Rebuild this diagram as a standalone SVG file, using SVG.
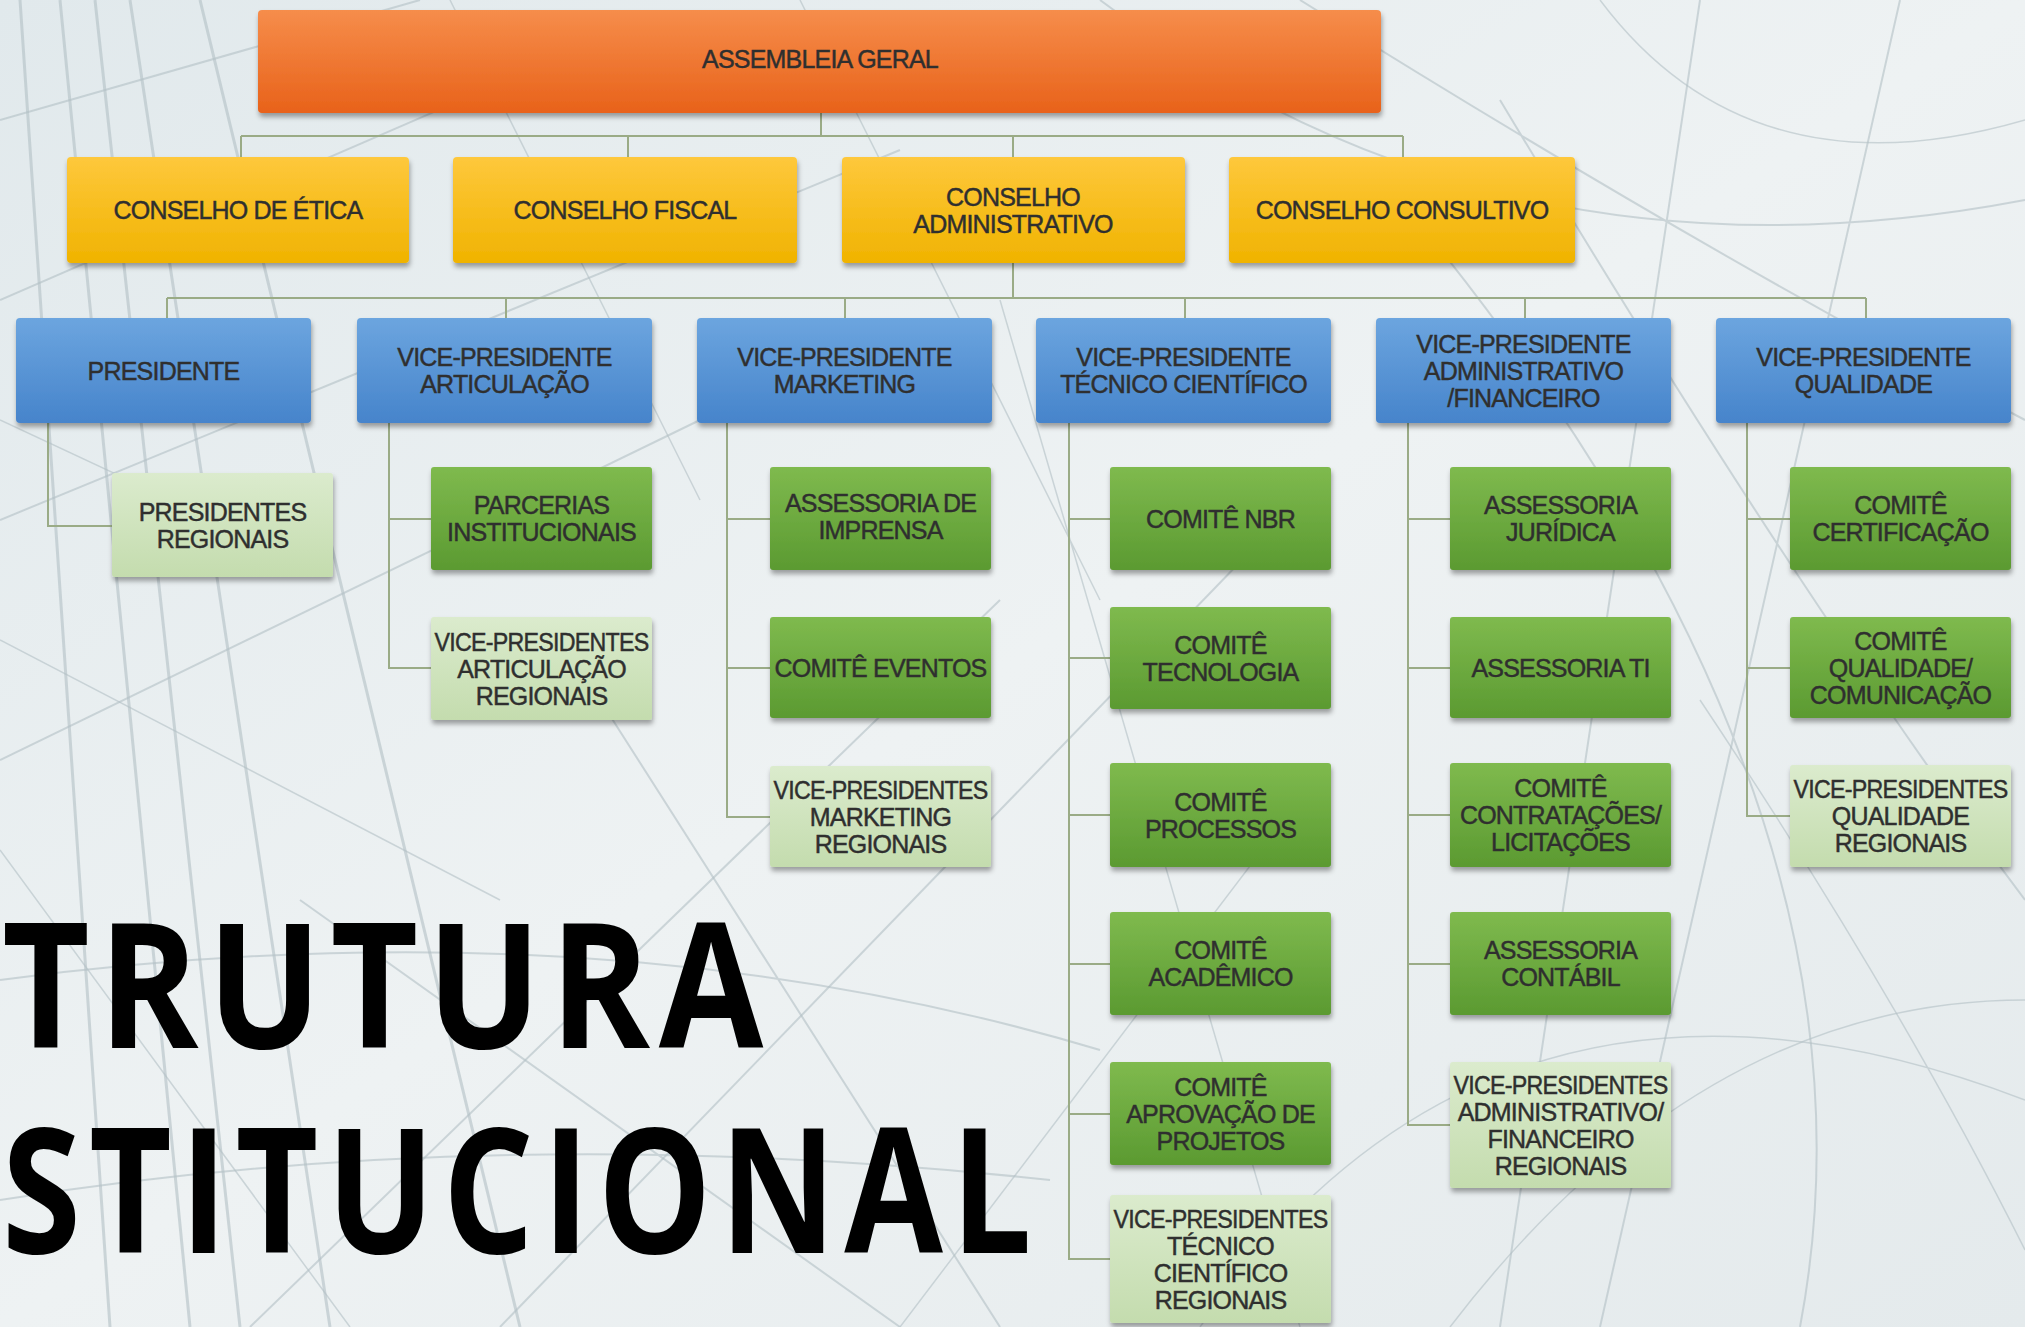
<svg xmlns="http://www.w3.org/2000/svg" width="2025" height="1327" viewBox="0 0 2025 1327">
<defs>
<linearGradient id="bg" x1="0" y1="0" x2="1" y2="1">
<stop offset="0" stop-color="#e1e9ec"/><stop offset="0.5" stop-color="#eef2f3"/><stop offset="1" stop-color="#e4eaec"/>
</linearGradient>
<linearGradient id="gOr" x1="0" y1="0" x2="0" y2="1"><stop offset="0" stop-color="#f68d4b"/><stop offset="1" stop-color="#e8621a"/></linearGradient>
<linearGradient id="gYe" x1="0" y1="0" x2="0" y2="1"><stop offset="0" stop-color="#fec83c"/><stop offset="1" stop-color="#f0b300"/></linearGradient>
<linearGradient id="gBl" x1="0" y1="0" x2="0" y2="1"><stop offset="0" stop-color="#6ca5df"/><stop offset="1" stop-color="#4684cb"/></linearGradient>
<linearGradient id="gDg" x1="0" y1="0" x2="0" y2="1"><stop offset="0" stop-color="#7fba4e"/><stop offset="1" stop-color="#5b9a31"/></linearGradient>
<linearGradient id="gLg" x1="0" y1="0" x2="0" y2="1"><stop offset="0" stop-color="#dbebcd"/><stop offset="1" stop-color="#c4dcae"/></linearGradient>
<filter id="sh" x="-10%" y="-10%" width="120%" height="130%">
<feDropShadow dx="1" dy="4" stdDeviation="2.5" flood-color="#000" flood-opacity="0.35"/>
</filter>
</defs>
<style>
.box{stroke:none;filter:url(#sh)}
.or{fill:url(#gOr)}.ye{fill:url(#gYe)}.bl{fill:url(#gBl)}.dg{fill:url(#gDg)}.lg{fill:url(#gLg)}
.t{font-family:"Liberation Sans",Arial,sans-serif;font-size:25px;letter-spacing:-0.8px;fill:#2f2f2f;stroke:#2f2f2f;stroke-width:0.45px;text-anchor:middle}
.big{font-family:"Open Sans","DejaVu Sans",sans-serif;font-weight:bold;font-size:175px;letter-spacing:10px;fill:#000}
.c{fill:none;stroke:#9aab86;stroke-width:2}
.bgl{fill:none;stroke:#b3bfc4;stroke-opacity:0.6}
</style>
<rect x="0" y="0" width="2025" height="1327" fill="url(#bg)"/>
<g id="background">
<path class="bgl" stroke-width="3" d="M20 0 L110 1327 M60 0 L190 1327 M130 0 L330 1327 M200 0 L520 1327 M95 0 L240 1327"/>
<path class="bgl" stroke-width="2" d="M0 120 L420 0 M0 300 L600 40 M0 520 L900 150 M0 760 L700 420 M250 1327 L1000 600 M500 1327 L1300 500"/>
<path class="bgl" stroke-width="2" d="M0 980 Q600 900 1100 1050 M0 1200 Q500 1120 1050 1180 M300 900 L900 1327 M600 700 L1000 1327"/>
<path class="bgl" stroke-width="2" d="M1100 0 Q1500 300 2025 200 M1300 0 Q1700 250 2025 420 M1500 100 Q1800 600 2025 900 M1700 0 L1500 1327 M1900 0 L1600 1327 M1400 200 Q1900 800 1800 1327"/>
<path class="bgl" stroke-width="1.5" d="M1000 300 L1300 1327 M1200 1327 Q1500 900 2025 1100 M1700 700 Q1900 1000 2025 1250 M800 0 L1100 600 M450 0 L700 500"/>
<path class="bgl" stroke-width="1.5" d="M0 640 L500 900 M0 850 L350 1327 M900 1327 L1300 800 M1450 1327 Q1700 1000 2025 1000 M1600 0 Q1750 200 2025 120 M0 420 L300 560"/>
</g>
<g id="connectors">
<path class="c" d="M821 113 V136 M241 136 H1403 M241 136 V157 M628 136 V157 M1013 136 V157 M1403 136 V157"/>
<path class="c" d="M1013 263 V298 M167 298 H1866 M167 298 V318 M506 298 V318 M845 298 V318 M1185 298 V318 M1525 298 V318 M1866 298 V318"/>
<path class="c" d="M48 423 V526 H112"/>
<path class="c" d="M389 423 V668 H431 M389 519 H431"/>
<path class="c" d="M727 423 V817 H770 M727 519 H770 M727 668 H770"/>
<path class="c" d="M1069 423 V1259 H1110 M1069 519 H1110 M1069 658 H1110 M1069 815 H1110 M1069 964 H1110 M1069 1114 H1110"/>
<path class="c" d="M1408 423 V1125 H1450 M1408 519 H1450 M1408 668 H1450 M1408 815 H1450 M1408 964 H1450"/>
<path class="c" d="M1747 423 V816 H1790 M1747 519 H1790 M1747 668 H1790"/>
</g>
<g id="assembleia"><rect class="box or" x="258" y="10" width="1123" height="103" rx="4"/><text class="t" x="820" y="68">ASSEMBLEIA GERAL</text></g>
<g id="conselho-etica"><rect class="box ye" x="67" y="157" width="342" height="106" rx="4"/><text class="t" x="238" y="219">CONSELHO DE ÉTICA</text></g>
<g id="conselho-fiscal"><rect class="box ye" x="453" y="157" width="344" height="106" rx="4"/><text class="t" x="625" y="219">CONSELHO FISCAL</text></g>
<g id="conselho-administrativo"><rect class="box ye" x="842" y="157" width="343" height="106" rx="4"/><text class="t"><tspan x="1013" y="205.5">CONSELHO</tspan><tspan x="1013" y="232.5">ADMINISTRATIVO</tspan></text></g>
<g id="conselho-consultivo"><rect class="box ye" x="1229" y="157" width="346" height="106" rx="4"/><text class="t" x="1402" y="219">CONSELHO CONSULTIVO</text></g>
<g id="presidente"><rect class="box bl" x="16" y="318" width="295" height="105" rx="4"/><text class="t" x="163.5" y="379.5">PRESIDENTE</text></g>
<g id="vp-articulacao"><rect class="box bl" x="357" y="318" width="295" height="105" rx="4"/><text class="t"><tspan x="504.5" y="366">VICE-PRESIDENTE</tspan><tspan x="504.5" y="393">ARTICULAÇÃO</tspan></text></g>
<g id="vp-marketing"><rect class="box bl" x="697" y="318" width="295" height="105" rx="4"/><text class="t"><tspan x="844.5" y="366">VICE-PRESIDENTE</tspan><tspan x="844.5" y="393">MARKETING</tspan></text></g>
<g id="vp-tecnico"><rect class="box bl" x="1036" y="318" width="295" height="105" rx="4"/><text class="t"><tspan x="1183.5" y="366">VICE-PRESIDENTE</tspan><tspan x="1183.5" y="393">TÉCNICO CIENTÍFICO</tspan></text></g>
<g id="vp-administrativo"><rect class="box bl" x="1376" y="318" width="295" height="105" rx="4"/><text class="t"><tspan x="1523.5" y="352.5">VICE-PRESIDENTE</tspan><tspan x="1523.5" y="379.5">ADMINISTRATIVO</tspan><tspan x="1523.5" y="406.5">/FINANCEIRO</tspan></text></g>
<g id="vp-qualidade"><rect class="box bl" x="1716" y="318" width="295" height="105" rx="4"/><text class="t"><tspan x="1863.5" y="366">VICE-PRESIDENTE</tspan><tspan x="1863.5" y="393">QUALIDADE</tspan></text></g>
<g id="presidentes-regionais"><rect class="box lg" x="112" y="473" width="221" height="104" rx="3"/><text class="t"><tspan x="222.5" y="520.5">PRESIDENTES</tspan><tspan x="222.5" y="547.5">REGIONAIS</tspan></text></g>
<g id="parcerias"><rect class="box dg" x="431" y="467" width="221" height="103" rx="3"/><text class="t"><tspan x="541.5" y="514">PARCERIAS</tspan><tspan x="541.5" y="541">INSTITUCIONAIS</tspan></text></g>
<g id="vp-articulacao-regionais"><rect class="box lg" x="431" y="617" width="221" height="103" rx="3"/><text class="t"><tspan x="541.5" y="650.5" textLength="214" lengthAdjust="spacingAndGlyphs">VICE-PRESIDENTES</tspan><tspan x="541.5" y="677.5">ARTICULAÇÃO</tspan><tspan x="541.5" y="704.5">REGIONAIS</tspan></text></g>
<g id="assessoria-imprensa"><rect class="box dg" x="770" y="467" width="221" height="103" rx="3"/><text class="t"><tspan x="880.5" y="512">ASSESSORIA DE</tspan><tspan x="880.5" y="539">IMPRENSA</tspan></text></g>
<g id="comite-eventos"><rect class="box dg" x="770" y="617" width="221" height="101" rx="3"/><text class="t" x="880.5" y="676.5" textLength="212" lengthAdjust="spacingAndGlyphs">COMITÊ EVENTOS</text></g>
<g id="vp-marketing-regionais"><rect class="box lg" x="770" y="766" width="221" height="101" rx="3"/><text class="t"><tspan x="880.5" y="798.5" textLength="214" lengthAdjust="spacingAndGlyphs">VICE-PRESIDENTES</tspan><tspan x="880.5" y="825.5">MARKETING</tspan><tspan x="880.5" y="852.5">REGIONAIS</tspan></text></g>
<g id="comite-nbr"><rect class="box dg" x="1110" y="467" width="221" height="103" rx="3"/><text class="t" x="1220.5" y="527.5">COMITÊ NBR</text></g>
<g id="comite-tecnologia"><rect class="box dg" x="1110" y="607" width="221" height="102" rx="3"/><text class="t"><tspan x="1220.5" y="653.5">COMITÊ</tspan><tspan x="1220.5" y="680.5">TECNOLOGIA</tspan></text></g>
<g id="comite-processos"><rect class="box dg" x="1110" y="763" width="221" height="104" rx="3"/><text class="t"><tspan x="1220.5" y="810.5">COMITÊ</tspan><tspan x="1220.5" y="837.5">PROCESSOS</tspan></text></g>
<g id="comite-academico"><rect class="box dg" x="1110" y="912" width="221" height="103" rx="3"/><text class="t"><tspan x="1220.5" y="959">COMITÊ</tspan><tspan x="1220.5" y="986">ACADÊMICO</tspan></text></g>
<g id="comite-aprovacao"><rect class="box dg" x="1110" y="1062" width="221" height="103" rx="3"/><text class="t"><tspan x="1220.5" y="1095.5">COMITÊ</tspan><tspan x="1220.5" y="1122.5">APROVAÇÃO DE</tspan><tspan x="1220.5" y="1149.5">PROJETOS</tspan></text></g>
<g id="vp-tecnico-regionais"><rect class="box lg" x="1110" y="1195" width="221" height="128" rx="3"/><text class="t"><tspan x="1220.5" y="1227.5" textLength="214" lengthAdjust="spacingAndGlyphs">VICE-PRESIDENTES</tspan><tspan x="1220.5" y="1254.5">TÉCNICO</tspan><tspan x="1220.5" y="1281.5">CIENTÍFICO</tspan><tspan x="1220.5" y="1308.5">REGIONAIS</tspan></text></g>
<g id="assessoria-juridica"><rect class="box dg" x="1450" y="467" width="221" height="103" rx="3"/><text class="t"><tspan x="1560.5" y="514">ASSESSORIA</tspan><tspan x="1560.5" y="541">JURÍDICA</tspan></text></g>
<g id="assessoria-ti"><rect class="box dg" x="1450" y="617" width="221" height="101" rx="3"/><text class="t" x="1560.5" y="676.5">ASSESSORIA TI</text></g>
<g id="comite-contratacoes"><rect class="box dg" x="1450" y="763" width="221" height="104" rx="3"/><text class="t"><tspan x="1560.5" y="797">COMITÊ</tspan><tspan x="1560.5" y="824">CONTRATAÇÕES/</tspan><tspan x="1560.5" y="851">LICITAÇÕES</tspan></text></g>
<g id="assessoria-contabil"><rect class="box dg" x="1450" y="912" width="221" height="103" rx="3"/><text class="t"><tspan x="1560.5" y="959">ASSESSORIA</tspan><tspan x="1560.5" y="986">CONTÁBIL</tspan></text></g>
<g id="vp-administrativo-regionais"><rect class="box lg" x="1450" y="1062" width="221" height="126" rx="3"/><text class="t"><tspan x="1560.5" y="1093.5" textLength="214" lengthAdjust="spacingAndGlyphs">VICE-PRESIDENTES</tspan><tspan x="1560.5" y="1120.5">ADMINISTRATIVO/</tspan><tspan x="1560.5" y="1147.5">FINANCEIRO</tspan><tspan x="1560.5" y="1174.5">REGIONAIS</tspan></text></g>
<g id="comite-certificacao"><rect class="box dg" x="1790" y="467" width="221" height="103" rx="3"/><text class="t"><tspan x="1900.5" y="514">COMITÊ</tspan><tspan x="1900.5" y="541">CERTIFICAÇÃO</tspan></text></g>
<g id="comite-qualidade"><rect class="box dg" x="1790" y="617" width="221" height="101" rx="3"/><text class="t"><tspan x="1900.5" y="649.5">COMITÊ</tspan><tspan x="1900.5" y="676.5">QUALIDADE/</tspan><tspan x="1900.5" y="703.5">COMUNICAÇÃO</tspan></text></g>
<g id="vp-qualidade-regionais"><rect class="box lg" x="1790" y="765" width="221" height="102" rx="3"/><text class="t"><tspan x="1900.5" y="798" textLength="214" lengthAdjust="spacingAndGlyphs">VICE-PRESIDENTES</tspan><tspan x="1900.5" y="825">QUALIDADE</tspan><tspan x="1900.5" y="852">REGIONAIS</tspan></text></g>
<g id="title">
<text class="big" x="2" y="1048" textLength="770" lengthAdjust="spacingAndGlyphs">TRUTURA</text>
<text class="big" x="2" y="1253" textLength="1038" lengthAdjust="spacingAndGlyphs">STITUCIONAL</text>
</g>
</svg>
